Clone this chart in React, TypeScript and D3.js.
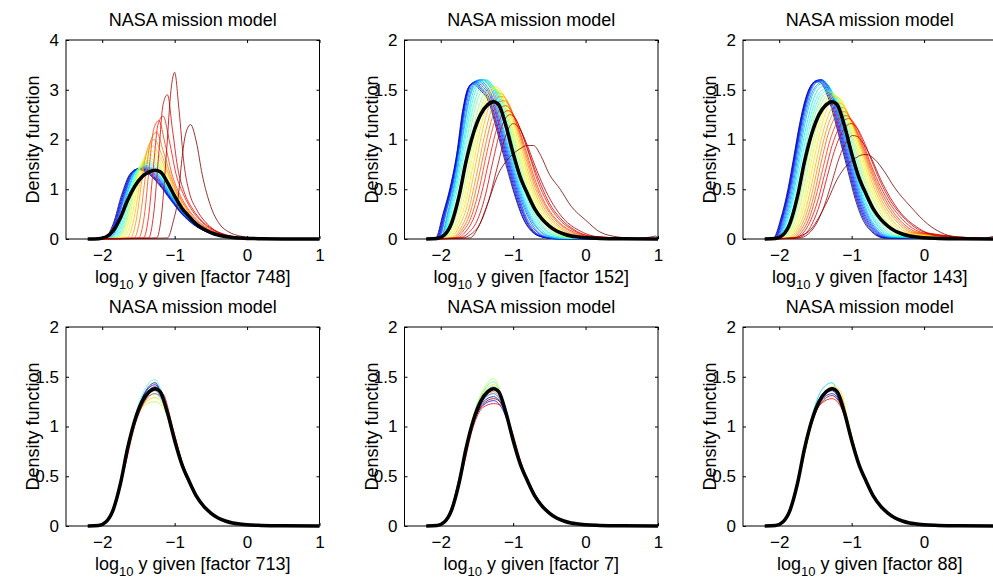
import { useEffect, useRef } from 'react';
import * as d3 from 'd3';

const W = 993;
const H = 581;

const TITLE = 'NASA mission model';
const FACTORS = [748, 152, 143, 713, 7, 88];
const X_DOMAIN = [-2.5, 1];
const X_TICKS = [-2, -1, 0, 1];
const Y_MAX = [4, 2, 2, 2, 2, 2];
const Y_TICKS_WIDE = [0, 1, 2, 3, 4];
const Y_TICKS = [0, 0.5, 1, 1.5, 2];
// every curve runs along the baseline from here to the right edge
const X_FIRST = -2.2;
const X_LAST = 1;

// thick black curve, same in every panel
const MEAN = [
  [-2.05, 0.005], [-1.95, 0.04], [-1.85, 0.16], [-1.75, 0.42], [-1.65, 0.78], [-1.55, 1.06],
  [-1.45, 1.25], [-1.35, 1.35], [-1.27, 1.38], [-1.2, 1.35], [-1.1, 1.14], [-1.0, 0.86],
  [-0.9, 0.62], [-0.8, 0.45], [-0.7, 0.3], [-0.6, 0.2], [-0.5, 0.13], [-0.4, 0.08],
  [-0.3, 0.05], [-0.2, 0.03], [-0.1, 0.02], [0, 0.012], [0.2, 0.006], [0.5, 0.002],
];

// factor 748 (blue -> dark red)
const F748 = [
  [[-1.97,0.02],[-1.85,0.3],[-1.73,0.9],[-1.62,1.3],[-1.52,1.4],[-1.38,1.33],[-1.22,1.1],[-1.05,0.77],[-0.9,0.5],[-0.75,0.3],[-0.6,0.17],[-0.4,0.07],[-0.2,0.025],[0,0.01]],
  [[-1.96,0.02],[-1.84,0.3],[-1.72,0.9],[-1.61,1.3],[-1.5,1.41],[-1.37,1.34],[-1.22,1.12],[-1.05,0.79],[-0.9,0.51],[-0.75,0.31],[-0.6,0.17],[-0.4,0.07],[-0.2,0.025],[0,0.01]],
  [[-1.95,0.02],[-1.83,0.3],[-1.71,0.9],[-1.6,1.31],[-1.49,1.42],[-1.36,1.35],[-1.22,1.14],[-1.05,0.8],[-0.9,0.52],[-0.75,0.31],[-0.6,0.18],[-0.4,0.07],[-0.2,0.025],[0,0.01]],
  [[-1.94,0.02],[-1.82,0.3],[-1.7,0.9],[-1.59,1.31],[-1.47,1.42],[-1.35,1.36],[-1.21,1.15],[-1.05,0.81],[-0.9,0.53],[-0.75,0.32],[-0.6,0.18],[-0.4,0.07],[-0.2,0.026],[0,0.01]],
  [[-1.93,0.02],[-1.81,0.3],[-1.69,0.9],[-1.58,1.32],[-1.46,1.43],[-1.34,1.37],[-1.2,1.16],[-1.05,0.83],[-0.9,0.54],[-0.75,0.32],[-0.6,0.18],[-0.4,0.07],[-0.2,0.026],[0,0.01]],
  [[-1.92,0.02],[-1.8,0.3],[-1.68,0.9],[-1.57,1.33],[-1.45,1.44],[-1.33,1.38],[-1.2,1.18],[-1.05,0.85],[-0.9,0.55],[-0.75,0.33],[-0.6,0.19],[-0.4,0.075],[-0.2,0.027],[0,0.01]],
  [[-1.9,0.02],[-1.78,0.3],[-1.66,0.92],[-1.55,1.34],[-1.43,1.45],[-1.31,1.39],[-1.19,1.19],[-1.05,0.87],[-0.9,0.56],[-0.75,0.34],[-0.6,0.19],[-0.4,0.075],[-0.2,0.027],[0,0.01]],
  [[-1.88,0.02],[-1.77,0.3],[-1.65,0.93],[-1.54,1.35],[-1.42,1.46],[-1.3,1.4],[-1.18,1.2],[-1.05,0.88],[-0.9,0.57],[-0.75,0.35],[-0.6,0.2],[-0.4,0.078],[-0.2,0.028],[0,0.01]],
  [[-1.86,0.02],[-1.75,0.3],[-1.64,0.95],[-1.53,1.37],[-1.41,1.48],[-1.3,1.42],[-1.18,1.22],[-1.05,0.9],[-0.9,0.58],[-0.75,0.35],[-0.6,0.2],[-0.4,0.08],[-0.2,0.028],[0,0.01]],
  [[-1.84,0.02],[-1.73,0.3],[-1.62,0.96],[-1.51,1.4],[-1.39,1.51],[-1.28,1.44],[-1.17,1.24],[-1.05,0.92],[-0.9,0.59],[-0.75,0.36],[-0.6,0.21],[-0.4,0.08],[-0.2,0.029],[0,0.01]],
  [[-1.82,0.02],[-1.71,0.3],[-1.6,0.98],[-1.49,1.43],[-1.38,1.54],[-1.27,1.46],[-1.16,1.26],[-1.05,0.94],[-0.9,0.6],[-0.75,0.37],[-0.6,0.21],[-0.4,0.085],[-0.2,0.03],[0,0.01]],
  [[-1.8,0.02],[-1.69,0.3],[-1.58,1.0],[-1.47,1.47],[-1.37,1.58],[-1.26,1.49],[-1.15,1.27],[-1.05,0.96],[-0.9,0.61],[-0.75,0.37],[-0.6,0.22],[-0.4,0.085],[-0.2,0.03],[0,0.01]],
  [[-1.77,0.02],[-1.67,0.3],[-1.56,1.02],[-1.45,1.52],[-1.35,1.63],[-1.25,1.52],[-1.15,1.3],[-1.05,0.98],[-0.9,0.62],[-0.75,0.38],[-0.6,0.22],[-0.4,0.09],[-0.2,0.031],[0,0.01]],
  [[-1.74,0.02],[-1.64,0.32],[-1.54,1.05],[-1.44,1.57],[-1.34,1.69],[-1.24,1.56],[-1.14,1.31],[-1.04,0.99],[-0.9,0.63],[-0.75,0.38],[-0.6,0.22],[-0.4,0.09],[-0.2,0.031],[0,0.01]],
  [[-1.7,0.02],[-1.61,0.33],[-1.51,1.08],[-1.42,1.63],[-1.32,1.77],[-1.22,1.6],[-1.12,1.32],[-1.03,1.0],[-0.9,0.64],[-0.75,0.39],[-0.6,0.23],[-0.4,0.09],[-0.2,0.032],[0,0.01]],
  [[-1.66,0.02],[-1.57,0.35],[-1.48,1.12],[-1.39,1.72],[-1.3,1.87],[-1.2,1.64],[-1.1,1.32],[-1.0,0.98],[-0.88,0.65],[-0.75,0.4],[-0.6,0.23],[-0.4,0.095],[-0.2,0.033],[0,0.011]],
  [[-1.61,0.02],[-1.53,0.38],[-1.45,1.2],[-1.37,1.84],[-1.28,2.0],[-1.18,1.7],[-1.08,1.3],[-0.98,0.95],[-0.86,0.65],[-0.75,0.41],[-0.6,0.24],[-0.4,0.1],[-0.2,0.034],[0,0.011]],
  [[-1.56,0.02],[-1.48,0.4],[-1.4,1.3],[-1.33,1.98],[-1.25,2.15],[-1.16,1.78],[-1.06,1.3],[-0.96,0.93],[-0.85,0.65],[-0.72,0.4],[-0.6,0.25],[-0.4,0.1],[-0.2,0.035],[0,0.012]],
  [[-1.5,0.02],[-1.42,0.45],[-1.35,1.45],[-1.29,2.2],[-1.22,2.38],[-1.13,1.9],[-1.04,1.32],[-0.94,0.93],[-0.83,0.64],[-0.7,0.4],[-0.55,0.22],[-0.4,0.11],[-0.2,0.037],[0,0.012]],
  [[-1.43,0.02],[-1.36,0.45],[-1.29,1.5],[-1.23,2.3],[-1.16,2.47],[-1.07,1.95],[-0.98,1.3],[-0.88,0.9],[-0.78,0.62],[-0.65,0.38],[-0.5,0.2],[-0.35,0.1],[-0.15,0.035],[0,0.015]],
  [[-1.36,0.02],[-1.29,0.5],[-1.22,1.7],[-1.16,2.7],[-1.1,2.9],[-1.03,2.2],[-0.96,1.45],[-0.87,0.95],[-0.75,0.6],[-0.62,0.36],[-0.48,0.2],[-0.3,0.09],[-0.1,0.03],[0.1,0.01]],
  [[-1.25,0.02],[-1.18,0.5],[-1.11,1.8],[-1.05,3.0],[-1.0,3.35],[-0.94,2.6],[-0.87,1.5],[-0.8,0.95],[-0.7,0.6],[-0.58,0.35],[-0.45,0.18],[-0.3,0.08],[-0.1,0.03],[0.1,0.01]],
  [[-1.1,0.02],[-1.02,0.35],[-0.95,0.85],[-0.9,1.6],[-0.85,2.1],[-0.78,2.3],[-0.7,1.95],[-0.62,1.3],[-0.5,0.65],[-0.38,0.3],[-0.25,0.14],[-0.1,0.06],[0.05,0.03],[0.25,0.01]],
];

// factor 152
const F152 = [
  [[-2.07,0.01],[-1.97,0.25],[-1.87,0.52],[-1.78,0.85],[-1.7,1.28],[-1.62,1.52],[-1.55,1.56],[-1.46,1.5],[-1.34,1.38],[-1.22,1.08],[-1.1,0.75],[-0.97,0.42],[-0.86,0.2],[-0.75,0.08],[-0.6,0.02],[-0.4,0.003]],
  [[-2.06,0.01],[-1.96,0.26],[-1.86,0.53],[-1.77,0.88],[-1.69,1.3],[-1.61,1.53],[-1.53,1.57],[-1.45,1.51],[-1.33,1.39],[-1.21,1.09],[-1.09,0.76],[-0.96,0.42],[-0.85,0.2],[-0.74,0.08],[-0.6,0.02],[-0.4,0.003]],
  [[-2.05,0.01],[-1.95,0.26],[-1.85,0.55],[-1.76,0.9],[-1.68,1.32],[-1.6,1.54],[-1.52,1.58],[-1.44,1.52],[-1.32,1.4],[-1.2,1.1],[-1.08,0.77],[-0.95,0.43],[-0.84,0.21],[-0.73,0.08],[-0.58,0.02],[-0.4,0.003]],
  [[-2.04,0.01],[-1.94,0.27],[-1.84,0.56],[-1.75,0.92],[-1.67,1.33],[-1.59,1.55],[-1.5,1.58],[-1.42,1.53],[-1.31,1.42],[-1.19,1.12],[-1.07,0.78],[-0.94,0.44],[-0.83,0.21],[-0.72,0.085],[-0.57,0.02],[-0.4,0.003]],
  [[-2.03,0.01],[-1.93,0.27],[-1.83,0.57],[-1.74,0.95],[-1.66,1.35],[-1.57,1.56],[-1.48,1.59],[-1.4,1.54],[-1.3,1.43],[-1.18,1.13],[-1.06,0.79],[-0.93,0.45],[-0.82,0.22],[-0.7,0.09],[-0.56,0.02],[-0.4,0.004]],
  [[-2.02,0.01],[-1.92,0.28],[-1.82,0.58],[-1.73,0.97],[-1.64,1.37],[-1.55,1.57],[-1.46,1.6],[-1.38,1.55],[-1.29,1.44],[-1.17,1.14],[-1.05,0.8],[-0.92,0.46],[-0.8,0.23],[-0.68,0.09],[-0.54,0.02],[-0.4,0.005]],
  [[-2.0,0.01],[-1.9,0.28],[-1.8,0.6],[-1.71,1.0],[-1.62,1.38],[-1.53,1.57],[-1.43,1.6],[-1.35,1.56],[-1.27,1.45],[-1.16,1.15],[-1.04,0.81],[-0.91,0.47],[-0.79,0.24],[-0.66,0.1],[-0.52,0.025],[-0.35,0.005]],
  [[-1.99,0.01],[-1.89,0.28],[-1.79,0.6],[-1.7,1.0],[-1.61,1.38],[-1.51,1.57],[-1.41,1.6],[-1.33,1.56],[-1.25,1.45],[-1.15,1.16],[-1.03,0.82],[-0.9,0.48],[-0.78,0.25],[-0.65,0.1],[-0.5,0.03],[-0.3,0.005]],
  [[-1.98,0.01],[-1.88,0.27],[-1.78,0.58],[-1.68,1.0],[-1.59,1.37],[-1.49,1.57],[-1.39,1.6],[-1.31,1.56],[-1.23,1.45],[-1.13,1.17],[-1.02,0.83],[-0.89,0.49],[-0.77,0.26],[-0.63,0.11],[-0.48,0.03],[-0.3,0.006]],
  [[-1.97,0.01],[-1.87,0.26],[-1.77,0.56],[-1.67,0.97],[-1.57,1.36],[-1.47,1.56],[-1.37,1.6],[-1.29,1.55],[-1.21,1.44],[-1.11,1.16],[-1.0,0.83],[-0.88,0.5],[-0.75,0.27],[-0.61,0.12],[-0.46,0.04],[-0.25,0.007]],
  [[-1.96,0.01],[-1.86,0.24],[-1.76,0.53],[-1.65,0.95],[-1.55,1.33],[-1.45,1.53],[-1.35,1.58],[-1.27,1.53],[-1.19,1.42],[-1.09,1.16],[-0.98,0.84],[-0.86,0.51],[-0.73,0.28],[-0.6,0.13],[-0.45,0.045],[-0.25,0.01]],
  [[-1.95,0.01],[-1.85,0.22],[-1.74,0.5],[-1.63,0.92],[-1.53,1.3],[-1.43,1.5],[-1.33,1.56],[-1.25,1.52],[-1.17,1.42],[-1.07,1.16],[-0.97,0.85],[-0.85,0.52],[-0.72,0.29],[-0.58,0.14],[-0.42,0.05],[-0.2,0.01]],
  [[-1.94,0.01],[-1.83,0.2],[-1.72,0.47],[-1.61,0.88],[-1.5,1.27],[-1.4,1.47],[-1.31,1.54],[-1.23,1.5],[-1.15,1.4],[-1.05,1.15],[-0.95,0.85],[-0.83,0.53],[-0.7,0.3],[-0.56,0.15],[-0.4,0.055],[-0.2,0.012]],
  [[-1.92,0.01],[-1.81,0.18],[-1.7,0.44],[-1.59,0.84],[-1.48,1.23],[-1.38,1.44],[-1.29,1.52],[-1.21,1.49],[-1.13,1.39],[-1.03,1.15],[-0.93,0.86],[-0.81,0.54],[-0.68,0.31],[-0.54,0.16],[-0.38,0.06],[-0.2,0.015]],
  [[-1.9,0.01],[-1.79,0.16],[-1.68,0.4],[-1.57,0.8],[-1.46,1.2],[-1.36,1.42],[-1.27,1.51],[-1.2,1.49],[-1.12,1.39],[-1.02,1.15],[-0.91,0.86],[-0.79,0.55],[-0.66,0.32],[-0.52,0.17],[-0.35,0.07],[-0.15,0.02]],
  [[-1.88,0.01],[-1.77,0.14],[-1.66,0.36],[-1.55,0.75],[-1.44,1.15],[-1.34,1.4],[-1.25,1.53],[-1.18,1.5],[-1.1,1.4],[-1.0,1.16],[-0.89,0.87],[-0.77,0.56],[-0.64,0.33],[-0.5,0.18],[-0.33,0.075],[-0.1,0.02]],
  [[-1.86,0.01],[-1.75,0.12],[-1.64,0.32],[-1.53,0.7],[-1.42,1.1],[-1.32,1.36],[-1.23,1.47],[-1.16,1.46],[-1.08,1.38],[-0.98,1.16],[-0.87,0.88],[-0.75,0.57],[-0.62,0.34],[-0.48,0.19],[-0.3,0.08],[-0.1,0.025]],
  [[-1.84,0.01],[-1.73,0.1],[-1.62,0.28],[-1.51,0.63],[-1.4,1.02],[-1.3,1.3],[-1.21,1.43],[-1.14,1.43],[-1.06,1.36],[-0.96,1.15],[-0.85,0.88],[-0.73,0.58],[-0.6,0.35],[-0.45,0.19],[-0.28,0.085],[-0.05,0.025]],
  [[-1.82,0.01],[-1.71,0.09],[-1.6,0.25],[-1.49,0.57],[-1.38,0.95],[-1.28,1.24],[-1.19,1.38],[-1.12,1.39],[-1.04,1.32],[-0.94,1.13],[-0.83,0.87],[-0.71,0.58],[-0.58,0.36],[-0.43,0.2],[-0.25,0.09],[0,0.025]],
  [[-1.8,0.01],[-1.69,0.08],[-1.58,0.22],[-1.47,0.5],[-1.36,0.88],[-1.26,1.17],[-1.17,1.32],[-1.1,1.34],[-1.02,1.28],[-0.92,1.1],[-0.81,0.86],[-0.69,0.58],[-0.56,0.36],[-0.41,0.2],[-0.22,0.09],[0.05,0.025]],
  [[-1.77,0.01],[-1.66,0.07],[-1.55,0.2],[-1.44,0.45],[-1.33,0.8],[-1.23,1.1],[-1.14,1.26],[-1.07,1.29],[-0.99,1.24],[-0.89,1.08],[-0.78,0.85],[-0.66,0.58],[-0.53,0.37],[-0.38,0.21],[-0.2,0.1],[0.1,0.025]],
  [[-1.74,0.01],[-1.62,0.06],[-1.5,0.18],[-1.39,0.42],[-1.28,0.78],[-1.18,1.08],[-1.1,1.22],[-1.04,1.25],[-0.96,1.2],[-0.86,1.03],[-0.74,0.78],[-0.62,0.55],[-0.5,0.36],[-0.35,0.21],[-0.15,0.09],[0.15,0.02]],
  [[-1.7,0.01],[-1.58,0.05],[-1.46,0.15],[-1.34,0.38],[-1.22,0.72],[-1.12,1.0],[-1.05,1.13],[-1.0,1.16],[-0.92,1.12],[-0.82,0.97],[-0.7,0.74],[-0.58,0.53],[-0.45,0.35],[-0.3,0.2],[-0.1,0.09],[0.2,0.02]],
  [[-1.6,0.01],[-1.48,0.12],[-1.35,0.36],[-1.2,0.66],[-1.05,0.82],[-0.92,0.9],[-0.8,0.94],[-0.72,0.94],[-0.62,0.84],[-0.5,0.65],[-0.35,0.5],[-0.2,0.33],[0,0.19],[0.2,0.07],[0.45,0.02],[0.7,0.005],[0.9,0.02],[0.97,0.03]],
];

// factor 143
const F143 = [
  [[-2.08,0.01],[-1.98,0.2],[-1.88,0.5],[-1.8,0.82],[-1.72,1.15],[-1.62,1.45],[-1.52,1.57],[-1.45,1.58],[-1.38,1.52],[-1.28,1.32],[-1.18,1.05],[-1.05,0.68],[-0.95,0.4],[-0.85,0.2],[-0.72,0.07],[-0.55,0.01]],
  [[-2.07,0.01],[-1.97,0.21],[-1.87,0.51],[-1.79,0.84],[-1.71,1.17],[-1.61,1.46],[-1.51,1.58],[-1.44,1.59],[-1.37,1.53],[-1.27,1.33],[-1.17,1.06],[-1.04,0.69],[-0.94,0.41],[-0.84,0.21],[-0.71,0.075],[-0.54,0.012]],
  [[-2.06,0.01],[-1.96,0.21],[-1.86,0.52],[-1.78,0.85],[-1.7,1.18],[-1.6,1.47],[-1.5,1.59],[-1.43,1.6],[-1.36,1.54],[-1.26,1.34],[-1.16,1.07],[-1.03,0.7],[-0.93,0.42],[-0.83,0.22],[-0.7,0.08],[-0.53,0.013]],
  [[-2.05,0.01],[-1.95,0.22],[-1.85,0.53],[-1.77,0.86],[-1.69,1.19],[-1.59,1.47],[-1.49,1.59],[-1.42,1.6],[-1.35,1.55],[-1.25,1.35],[-1.15,1.08],[-1.02,0.71],[-0.92,0.43],[-0.82,0.23],[-0.69,0.085],[-0.52,0.014]],
  [[-2.04,0.01],[-1.94,0.22],[-1.84,0.53],[-1.76,0.87],[-1.68,1.2],[-1.58,1.48],[-1.48,1.59],[-1.41,1.6],[-1.34,1.55],[-1.24,1.36],[-1.14,1.09],[-1.01,0.72],[-0.91,0.44],[-0.81,0.24],[-0.68,0.09],[-0.5,0.015]],
  [[-2.03,0.01],[-1.93,0.21],[-1.83,0.52],[-1.75,0.86],[-1.67,1.19],[-1.57,1.47],[-1.47,1.58],[-1.4,1.59],[-1.33,1.55],[-1.23,1.36],[-1.13,1.1],[-1.0,0.73],[-0.9,0.45],[-0.8,0.25],[-0.67,0.095],[-0.48,0.016]],
  [[-2.02,0.01],[-1.92,0.2],[-1.82,0.5],[-1.74,0.84],[-1.66,1.17],[-1.56,1.45],[-1.46,1.56],[-1.39,1.58],[-1.32,1.54],[-1.22,1.36],[-1.12,1.1],[-0.99,0.74],[-0.89,0.46],[-0.79,0.26],[-0.66,0.1],[-0.46,0.018]],
  [[-2.01,0.01],[-1.91,0.19],[-1.81,0.48],[-1.73,0.81],[-1.65,1.14],[-1.55,1.43],[-1.45,1.55],[-1.38,1.57],[-1.31,1.53],[-1.21,1.36],[-1.11,1.1],[-0.98,0.75],[-0.88,0.47],[-0.78,0.27],[-0.65,0.11],[-0.44,0.02]],
  [[-2.0,0.01],[-1.9,0.18],[-1.8,0.46],[-1.72,0.78],[-1.63,1.12],[-1.53,1.4],[-1.44,1.52],[-1.37,1.54],[-1.3,1.51],[-1.2,1.35],[-1.1,1.1],[-0.97,0.76],[-0.87,0.48],[-0.76,0.28],[-0.63,0.12],[-0.42,0.022]],
  [[-1.99,0.01],[-1.89,0.17],[-1.79,0.44],[-1.7,0.76],[-1.61,1.1],[-1.51,1.37],[-1.42,1.49],[-1.35,1.51],[-1.28,1.48],[-1.19,1.34],[-1.09,1.1],[-0.96,0.77],[-0.86,0.49],[-0.75,0.29],[-0.62,0.13],[-0.4,0.025]],
  [[-1.98,0.01],[-1.87,0.16],[-1.77,0.42],[-1.68,0.74],[-1.59,1.08],[-1.49,1.35],[-1.4,1.47],[-1.33,1.49],[-1.26,1.46],[-1.17,1.33],[-1.07,1.1],[-0.95,0.78],[-0.84,0.5],[-0.73,0.3],[-0.6,0.14],[-0.38,0.03]],
  [[-1.96,0.01],[-1.85,0.15],[-1.75,0.4],[-1.66,0.72],[-1.57,1.06],[-1.47,1.33],[-1.38,1.45],[-1.31,1.48],[-1.24,1.45],[-1.15,1.32],[-1.05,1.1],[-0.93,0.79],[-0.82,0.51],[-0.71,0.31],[-0.58,0.15],[-0.35,0.035]],
  [[-1.94,0.01],[-1.83,0.14],[-1.73,0.37],[-1.64,0.69],[-1.55,1.03],[-1.45,1.3],[-1.36,1.43],[-1.29,1.47],[-1.22,1.44],[-1.13,1.31],[-1.03,1.1],[-0.91,0.8],[-0.8,0.52],[-0.69,0.32],[-0.55,0.16],[-0.32,0.04]],
  [[-1.92,0.01],[-1.81,0.13],[-1.71,0.34],[-1.62,0.65],[-1.53,0.99],[-1.43,1.27],[-1.34,1.41],[-1.27,1.45],[-1.2,1.43],[-1.11,1.31],[-1.01,1.1],[-0.89,0.81],[-0.78,0.53],[-0.66,0.33],[-0.52,0.17],[-0.3,0.045]],
  [[-1.9,0.01],[-1.79,0.12],[-1.69,0.31],[-1.6,0.61],[-1.51,0.95],[-1.41,1.24],[-1.32,1.39],[-1.25,1.44],[-1.18,1.42],[-1.09,1.3],[-0.99,1.1],[-0.87,0.82],[-0.76,0.55],[-0.64,0.34],[-0.5,0.18],[-0.28,0.05]],
  [[-1.88,0.01],[-1.77,0.11],[-1.67,0.29],[-1.58,0.57],[-1.49,0.9],[-1.39,1.2],[-1.3,1.37],[-1.23,1.43],[-1.16,1.41],[-1.07,1.29],[-0.97,1.09],[-0.85,0.82],[-0.74,0.56],[-0.62,0.36],[-0.47,0.19],[-0.25,0.055]],
  [[-1.86,0.01],[-1.75,0.1],[-1.65,0.26],[-1.56,0.52],[-1.47,0.84],[-1.37,1.14],[-1.28,1.31],[-1.21,1.37],[-1.14,1.36],[-1.05,1.26],[-0.95,1.08],[-0.83,0.82],[-0.72,0.57],[-0.6,0.37],[-0.45,0.2],[-0.2,0.06]],
  [[-1.84,0.01],[-1.73,0.09],[-1.63,0.24],[-1.54,0.48],[-1.45,0.79],[-1.35,1.09],[-1.26,1.26],[-1.19,1.32],[-1.12,1.32],[-1.03,1.23],[-0.93,1.06],[-0.81,0.81],[-0.7,0.58],[-0.58,0.38],[-0.42,0.21],[-0.15,0.06]],
  [[-1.82,0.01],[-1.71,0.08],[-1.61,0.22],[-1.52,0.44],[-1.43,0.74],[-1.33,1.04],[-1.24,1.21],[-1.17,1.27],[-1.1,1.28],[-1.01,1.2],[-0.91,1.04],[-0.79,0.8],[-0.68,0.58],[-0.55,0.38],[-0.4,0.22],[-0.1,0.06]],
  [[-1.8,0.01],[-1.69,0.07],[-1.59,0.2],[-1.5,0.41],[-1.4,0.7],[-1.3,0.99],[-1.21,1.16],[-1.14,1.23],[-1.07,1.24],[-0.99,1.18],[-0.89,1.02],[-0.77,0.79],[-0.66,0.58],[-0.53,0.39],[-0.37,0.22],[-0.05,0.06]],
  [[-1.78,0.01],[-1.67,0.06],[-1.57,0.18],[-1.47,0.38],[-1.37,0.66],[-1.27,0.94],[-1.18,1.11],[-1.11,1.19],[-1.04,1.21],[-0.96,1.16],[-0.86,1.0],[-0.75,0.78],[-0.63,0.57],[-0.5,0.39],[-0.34,0.23],[0,0.06]],
  [[-1.76,0.01],[-1.64,0.05],[-1.54,0.16],[-1.44,0.35],[-1.34,0.62],[-1.24,0.88],[-1.15,1.05],[-1.08,1.13],[-1.01,1.16],[-0.93,1.12],[-0.83,0.98],[-0.72,0.78],[-0.6,0.57],[-0.47,0.39],[-0.3,0.23],[0.05,0.06]],
  [[-1.72,0.01],[-1.6,0.05],[-1.49,0.15],[-1.38,0.33],[-1.27,0.58],[-1.17,0.82],[-1.07,0.98],[-0.99,1.04],[-0.92,1.03],[-0.83,0.95],[-0.72,0.8],[-0.6,0.6],[-0.47,0.42],[-0.32,0.26],[-0.1,0.12],[0.2,0.03]],
  [[-1.8,0.01],[-1.68,0.04],[-1.57,0.09],[-1.45,0.22],[-1.33,0.39],[-1.2,0.6],[-1.08,0.73],[-0.97,0.8],[-0.88,0.84],[-0.8,0.85],[-0.68,0.8],[-0.55,0.68],[-0.41,0.52],[-0.18,0.32],[0.05,0.15],[0.28,0.05],[0.52,0.01],[0.75,0.005],[0.92,0.02],[0.98,0.03]],
];

// bottom row: curves read on a shared grid
const GRID_B = [-2.0, -1.85, -1.7, -1.55, -1.42, -1.27, -1.16, -1.03, -0.9, -0.75, -0.55, -0.3, 0];

const F713 = [
  [0.015, 0.15, 0.6, 1.08, 1.33, 1.44, 1.27, 0.94, 0.6, 0.36, 0.155, 0.05, 0.012],
  [0.014, 0.16, 0.61, 1.08, 1.32, 1.42, 1.27, 0.95, 0.61, 0.37, 0.16, 0.05, 0.012],
  [0.016, 0.16, 0.6, 1.06, 1.28, 1.36, 1.25, 0.95, 0.62, 0.37, 0.16, 0.05, 0.013],
  [0.018, 0.17, 0.6, 1.05, 1.26, 1.33, 1.24, 0.96, 0.63, 0.38, 0.165, 0.055, 0.014],
  [0.012, 0.14, 0.6, 1.1, 1.36, 1.47, 1.3, 0.94, 0.6, 0.36, 0.155, 0.05, 0.012],
  [0.02, 0.19, 0.62, 1.04, 1.21, 1.25, 1.19, 0.96, 0.65, 0.39, 0.17, 0.055, 0.013],
  [0.018, 0.17, 0.6, 1.04, 1.23, 1.29, 1.22, 0.97, 0.64, 0.38, 0.165, 0.05, 0.012],
  [0.015, 0.15, 0.57, 1.02, 1.24, 1.33, 1.27, 0.99, 0.65, 0.38, 0.16, 0.05, 0.012],
  [0.013, 0.14, 0.55, 1.01, 1.25, 1.37, 1.33, 1.0, 0.65, 0.38, 0.16, 0.05, 0.012],
  [0.014, 0.15, 0.58, 1.05, 1.29, 1.4, 1.28, 0.97, 0.63, 0.37, 0.16, 0.05, 0.012],
];

const F7 = [
  [0.016, 0.17, 0.6, 1.04, 1.24, 1.3, 1.22, 0.95, 0.63, 0.38, 0.165, 0.055, 0.013],
  [0.02, 0.19, 0.63, 1.04, 1.21, 1.26, 1.19, 0.95, 0.64, 0.39, 0.17, 0.055, 0.013],
  [0.016, 0.17, 0.61, 1.06, 1.26, 1.33, 1.24, 0.95, 0.62, 0.37, 0.16, 0.05, 0.012],
  [0.014, 0.16, 0.61, 1.08, 1.3, 1.4, 1.27, 0.94, 0.61, 0.36, 0.16, 0.05, 0.012],
  [0.013, 0.17, 0.63, 1.1, 1.34, 1.45, 1.29, 0.94, 0.6, 0.36, 0.155, 0.05, 0.012],
  [0.012, 0.16, 0.64, 1.11, 1.36, 1.48, 1.31, 0.94, 0.6, 0.36, 0.15, 0.05, 0.012],
  [0.014, 0.15, 0.6, 1.08, 1.32, 1.42, 1.28, 0.95, 0.61, 0.37, 0.16, 0.05, 0.012],
  [0.015, 0.16, 0.59, 1.05, 1.27, 1.35, 1.26, 0.96, 0.63, 0.38, 0.16, 0.05, 0.012],
  [0.015, 0.15, 0.55, 1.0, 1.19, 1.23, 1.21, 0.99, 0.66, 0.39, 0.17, 0.055, 0.013],
  [0.015, 0.16, 0.58, 1.03, 1.22, 1.28, 1.23, 0.97, 0.64, 0.38, 0.165, 0.05, 0.012],
];

const F88 = [
  [0.015, 0.16, 0.6, 1.06, 1.28, 1.36, 1.25, 0.95, 0.62, 0.37, 0.16, 0.05, 0.012],
  [0.016, 0.17, 0.6, 1.05, 1.26, 1.33, 1.24, 0.95, 0.63, 0.37, 0.16, 0.05, 0.012],
  [0.015, 0.16, 0.61, 1.07, 1.3, 1.38, 1.25, 0.94, 0.62, 0.37, 0.16, 0.05, 0.012],
  [0.014, 0.17, 0.63, 1.1, 1.36, 1.44, 1.26, 0.93, 0.61, 0.36, 0.155, 0.05, 0.012],
  [0.015, 0.16, 0.61, 1.07, 1.29, 1.38, 1.26, 0.95, 0.62, 0.37, 0.16, 0.05, 0.012],
  [0.015, 0.15, 0.58, 1.04, 1.27, 1.37, 1.3, 0.98, 0.63, 0.38, 0.165, 0.055, 0.012],
  [0.013, 0.14, 0.56, 1.02, 1.26, 1.4, 1.36, 1.0, 0.64, 0.38, 0.17, 0.055, 0.013],
  [0.014, 0.15, 0.57, 1.03, 1.27, 1.39, 1.32, 0.99, 0.63, 0.38, 0.165, 0.05, 0.012],
  [0.016, 0.17, 0.6, 1.04, 1.23, 1.28, 1.21, 0.96, 0.64, 0.38, 0.165, 0.05, 0.012],
  [0.016, 0.16, 0.59, 1.04, 1.24, 1.31, 1.23, 0.96, 0.63, 0.38, 0.16, 0.05, 0.012],
];

const FONT = "'Liberation Sans', Arial, Helvetica, sans-serif";

// MATLAB jet colormap
const jet = (t) => {
  const c = (v) => Math.round(255 * Math.max(0, Math.min(1, v)));
  return `rgb(${c(1.5 - Math.abs(4 * t - 3))},${c(1.5 - Math.abs(4 * t - 2))},${c(1.5 - Math.abs(4 * t - 1))})`;
};

const onGrid = (rows) => rows.map(r => r.map((v, i) => [GRID_B[i], v]));

const App = () => {
  const svgRef = useRef(null);

  useEffect(() => {
    const svg = d3.select(svgRef.current);
    svg.selectAll('*').remove();

    const curveSets = [F748, F152, F143, onGrid(F713), onGrid(F7), onGrid(F88)];
    const lefts = [66, 404.5, 743];
    const tops = [40, 327];
    const pw = 253.5;
    const ph = 199;

    curveSets.forEach((curves, k) => {
      const col = k % 3;
      const row = Math.floor(k / 3);
      const g = svg.append('g').attr('transform', `translate(${lefts[col]},${tops[row]})`);

      const x = d3.scaleLinear().domain(X_DOMAIN).range([0, pw]);
      const y = d3.scaleLinear().domain([0, Y_MAX[k]]).range([ph, 0]);
      const yTicks = Y_MAX[k] === 4 ? Y_TICKS_WIDE : Y_TICKS;

      // axes box with inward ticks, matlab style
      const fmtX = d => (d < 0 ? '\u2212' + Math.abs(d) : String(d));
      const bottom = g.append('g').attr('transform', `translate(0,${ph})`)
        .call(d3.axisBottom(x).tickValues(X_TICKS).tickSize(-3).tickPadding(10).tickFormat(fmtX));
      const left = g.append('g')
        .call(d3.axisLeft(y).tickValues(yTicks).tickSize(-3).tickPadding(7).tickFormat(d => String(d)));
      g.append('g').call(d3.axisTop(x).tickValues(X_TICKS).tickSize(-3).tickFormat(() => ''));
      g.append('g').attr('transform', `translate(${pw},0)`)
        .call(d3.axisRight(y).tickValues(yTicks).tickSize(-3).tickFormat(() => ''));
      g.selectAll('.domain').remove();
      g.selectAll('.tick line').attr('stroke', '#000');
      [bottom, left].forEach(a => a.selectAll('text')
        .attr('fill', '#000').style('font-family', FONT).style('font-size', '17px'));

      g.append('rect').attr('width', pw).attr('height', ph)
        .attr('fill', 'none').attr('stroke', '#000').attr('stroke-width', 1);

      const line = d3.line()
        .x(d => x(d[0]))
        .y(d => y(d[1]))
        .curve(d3.curveMonotoneX);
      const full = pts => [[X_FIRST, 0], ...pts, [X_LAST, 0]];

      g.append('g').selectAll('path')
        .data(curves)
        .enter()
        .append('path')
        .attr('d', d => line(full(d)))
        .attr('fill', 'none')
        .attr('stroke', (d, i) => jet(i / (curves.length - 1)))
        .attr('stroke-width', 0.8);

      g.append('path')
        .attr('d', line(full(MEAN)))
        .attr('fill', 'none')
        .attr('stroke', '#000')
        .attr('stroke-width', 3.5)
        .attr('stroke-linejoin', 'round');

      g.append('text')
        .attr('x', pw / 2).attr('y', -14)
        .attr('text-anchor', 'middle')
        .style('font-family', FONT).style('font-size', '18px')
        .text(TITLE);

      const xl = g.append('text')
        .attr('x', pw / 2).attr('y', ph + 44)
        .attr('text-anchor', 'middle')
        .style('font-family', FONT).style('font-size', '18px');
      xl.append('tspan').text('log');
      xl.append('tspan').attr('dy', 6).style('font-size', '13px').text('10');
      xl.append('tspan').attr('dy', -6).text(` y given [factor ${FACTORS[k]}]`);

      g.append('text')
        .attr('transform', `translate(-33,${ph / 2}) rotate(-90)`)
        .attr('text-anchor', 'middle')
        .attr('dy', '0.35em')
        .style('font-family', FONT).style('font-size', '18px')
        .text('Density function');
    });
  }, []);

  return (
    <svg
      ref={svgRef}
      width={W}
      height={H}
      style={{ position: 'absolute', left: 0, top: 0, background: '#fff' }}
    />
  );
};

export default App;
